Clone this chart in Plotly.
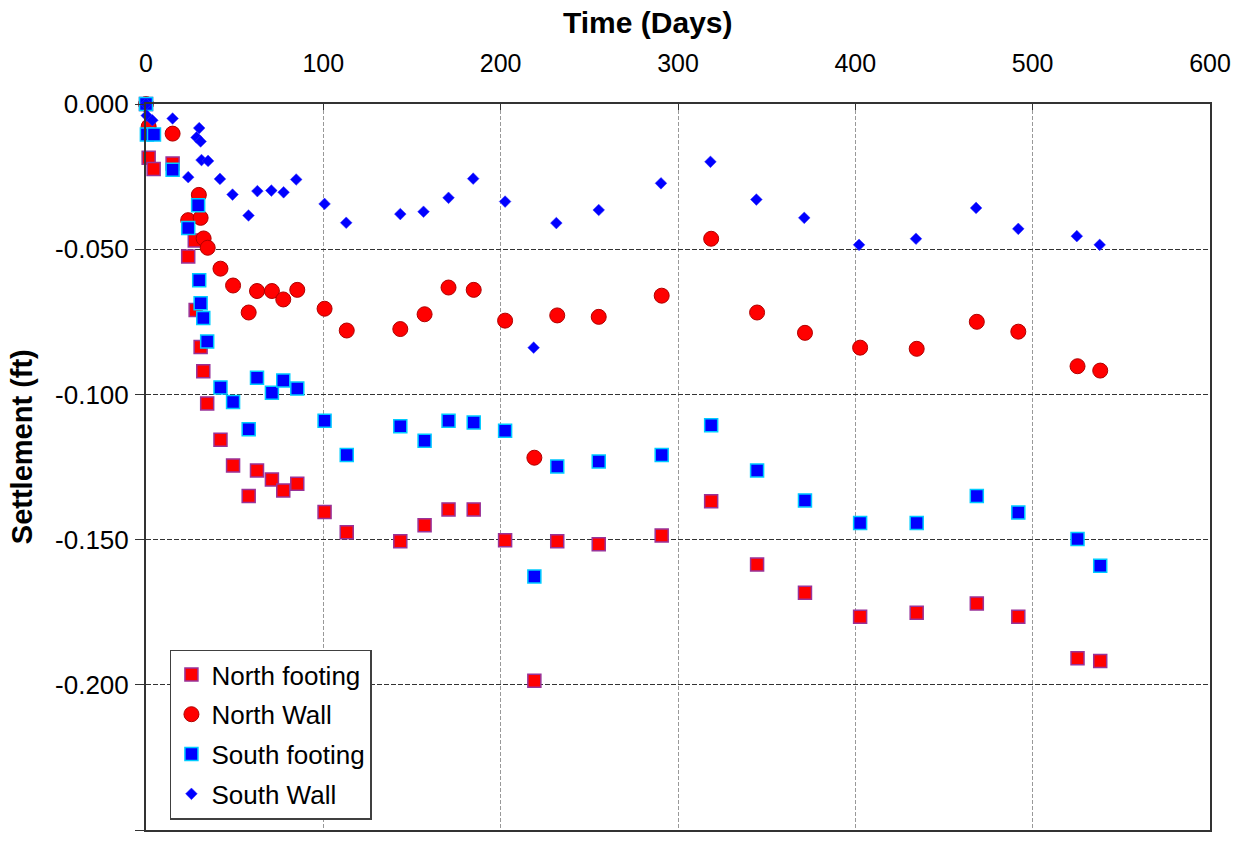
import plotly.graph_objects as go

# ---------------- data ----------------
nf_days = [0, 1.5, 4.3, 15, 23.8, 27.5, 28, 30.8, 32.3, 34.5, 42, 49.1, 57.9, 62.6, 71, 77.4, 85.3,
           100.7, 113.2, 143.4, 157.1, 170.6, 184.8, 202.5, 219, 231.9, 255.3, 290.8, 318.7,
           344.6, 371.6, 402.7, 434.6, 468.5, 491.9, 525.3, 538.1]
nf_settle = [0.0, -0.0185, -0.0224, -0.0205, -0.0525, -0.047, -0.0709, -0.0837, -0.092, -0.1031,
             -0.1156, -0.1245, -0.135, -0.1262, -0.1293, -0.1331, -0.1308, -0.1405, -0.1475,
             -0.1506, -0.1451, -0.1396, -0.1396, -0.1502, -0.1986, -0.1506, -0.1516, -0.1486,
             -0.1368, -0.1586, -0.1683, -0.1766, -0.1752, -0.172, -0.1766, -0.1909, -0.1918]

nw_days = [0, 1.5, 15, 23.8, 29.8, 30.8, 32.5, 34.8, 42, 49.1, 57.9, 62.6, 71, 77.4, 85.3,
           100.7, 113.2, 143.4, 157.1, 170.6, 184.8, 202.5, 219, 231.9, 255.3, 290.8, 318.7,
           344.6, 371.6, 402.7, 434.6, 468.5, 491.9, 525.3, 538.1]
nw_settle = [0.0, -0.0078, -0.0102, -0.040, -0.0313, -0.0392, -0.0463, -0.0495, -0.0567, -0.0625,
             -0.0718, -0.0644, -0.0644, -0.0673, -0.064, -0.0705, -0.078, -0.0775, -0.0724,
             -0.0632, -0.064, -0.0746, -0.1218, -0.0728, -0.0733, -0.066, -0.0464, -0.0718,
             -0.0788, -0.0839, -0.0843, -0.075, -0.0784, -0.0903, -0.0918]

sf_days = [0, 0.5, 4.5, 15, 23.8, 29.4, 30, 30.8, 32.3, 34.5, 42, 49.1, 57.9, 62.6, 71, 77.4, 85.3,
           100.7, 113.2, 143.4, 157.1, 170.6, 184.8, 202.5, 219, 231.9, 255.3, 290.8, 318.7,
           344.6, 371.6, 402.7, 434.6, 468.5, 491.9, 525.3, 538.1]
sf_settle = [0.0, -0.0105, -0.0105, -0.0226, -0.0427, -0.0349, -0.0607, -0.0686, -0.0737, -0.0818,
             -0.0976, -0.1026, -0.112, -0.0943, -0.0994, -0.0952, -0.098, -0.1091, -0.1209,
             -0.111, -0.116, -0.1091, -0.1097, -0.1125, -0.1627, -0.1248, -0.1231, -0.1209,
             -0.1106, -0.1262, -0.1365, -0.1443, -0.1443, -0.135, -0.1407, -0.1498, -0.159]

sw_days = [0, 0.4, 3.6, 15, 23.8, 28.5, 30, 30.8, 31.3, 35, 41.7, 48.8, 57.8, 62.8, 70.7, 77.6, 84.7,
           100.7, 112.9, 143.4, 156.5, 170.6, 184.5, 202.5, 218.6, 231.4, 255.3, 290.4, 318.3,
           344.2, 371.2, 402.1, 434.2, 468.1, 491.9, 524.9, 537.8]
sw_settle = [0.0, -0.004, -0.0056, -0.005, -0.0252, -0.0115, -0.0083, -0.0129, -0.0193, -0.0196,
             -0.0258, -0.0312, -0.0384, -0.030, -0.0298, -0.0304, -0.026, -0.0344, -0.0409,
             -0.0379, -0.0371, -0.0323, -0.0257, -0.0336, -0.0839, -0.041, -0.0365, -0.0273,
             -0.0199, -0.0329, -0.0392, -0.0485, -0.0464, -0.0358, -0.043, -0.0455, -0.0485]

x_ticks = [0, 100, 200, 300, 400, 500, 600]
y_ticks = [0.0, -0.05, -0.10, -0.15, -0.20, -0.25]
y_tick_labels = ["0.000", "-0.050", "-0.100", "-0.150", "-0.200", "-0.250"]

FONT = "Liberation Sans, Arial, sans-serif"

fig = go.Figure()
fig.add_trace(go.Scatter(
    x=nf_days, y=nf_settle, mode="markers", name="North footing", legendgroup="a",
    marker=dict(symbol="square", size=13, color="#FF0000", line=dict(color="#993399", width=1.5)),
    cliponaxis=False))
fig.add_trace(go.Scatter(
    x=nw_days, y=nw_settle, mode="markers", name="North Wall", legendgroup="b",
    marker=dict(symbol="circle", size=15, color="#FF0000", line=dict(color="#B00000", width=1)),
    cliponaxis=False))
fig.add_trace(go.Scatter(
    x=sf_days, y=sf_settle, mode="markers", name="South footing", legendgroup="c",
    marker=dict(symbol="square", size=13, color="#0000FF", line=dict(color="#00CCFF", width=1.5)),
    cliponaxis=False))
fig.add_trace(go.Scatter(
    x=sw_days, y=sw_settle, mode="markers", name="South Wall", legendgroup="d",
    marker=dict(symbol="diamond", size=9, color="#0000FF", line=dict(color="#3333FF", width=0.5)),
    cliponaxis=False))

fig.update_layout(
    width=1242, height=843,
    margin=dict(l=146, r=31, t=104, b=11),
    paper_bgcolor="white", plot_bgcolor="white",
    font=dict(family=FONT, size=24, color="black"),
    showlegend=True,
    legend=dict(x=0.0225, y=0.2486, xanchor="left", yanchor="top",
                bgcolor="white", bordercolor="#404040", borderwidth=1.5,
                font=dict(family=FONT, size=26, color="black"),
                tracegroupgap=3, itemwidth=30),
    xaxis=dict(side="top", range=[0, 600], tickvals=x_ticks,
               showline=True, linecolor="#333333", linewidth=2, mirror=True,
               ticks="inside", ticklen=6, tickcolor="#333333",
               showgrid=True, gridcolor="#999999", griddash="4px,2px", gridwidth=1,
               zeroline=False, ticklabelstandoff=20,
               tickfont=dict(family=FONT, size=25, color="black")),
    yaxis=dict(range=[-0.25, 0], tickvals=y_ticks, ticktext=y_tick_labels,
               showline=True, linecolor="#333333", linewidth=2, mirror=True,
               ticks="outside", ticklen=9, tickcolor="#333333",
               showgrid=True, gridcolor="#333333", griddash="5px,2px", gridwidth=1,
               zeroline=False, ticklabelstandoff=1,
               tickfont=dict(family=FONT, size=26, color="black")),
    annotations=[
        dict(text="<b>Time (Days)</b>", xref="paper", yref="paper",
             x=(648 - 146) / 1065, y=1 + (104 - 22) / 728, xanchor="center", yanchor="middle",
             showarrow=False, font=dict(family=FONT, size=30, color="black")),
        dict(text="<b>Settlement (ft)</b>", xref="paper", yref="paper",
             x=-(146 - 22) / 1065, y=(832 - 448) / 728, xanchor="center", yanchor="middle",
             textangle=-90, showarrow=False, font=dict(family=FONT, size=29, color="black")),
    ],
)

fig.write_html("out.html", config={"displayModeBar": False},
               post_script="document.body.style.margin='0';document.body.style.padding='0';")
